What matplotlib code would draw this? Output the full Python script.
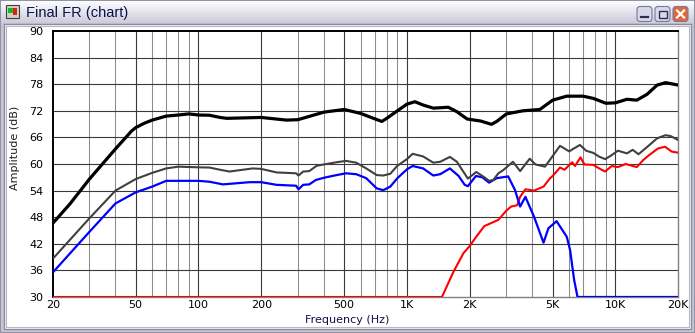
import numpy as np
import matplotlib
matplotlib.use("Agg")
import matplotlib.pyplot as plt
from matplotlib.patches import Rectangle, FancyBboxPatch

# ---------------- data ----------------
black_f = [20, 24.2, 30, 40, 47.7, 50, 55, 60, 70, 80, 90, 100, 113, 127, 137, 200, 265, 300,
           400, 500, 600, 700, 758, 800, 900, 1000, 1092, 1196, 1338, 1578, 1736, 1944,
           2254, 2545, 2695, 3000, 3600, 4340, 5000, 5840, 7000, 7830, 9000, 10000,
           11360, 12660, 14160, 15850, 17400, 20000]
black_db = [46.6, 51.0, 56.6, 63.4, 67.4, 68.2, 69.2, 69.9, 70.8, 71.05, 71.3, 71.05, 71.0, 70.5,
            70.3, 70.5, 69.9, 70.0, 71.7, 72.3, 71.4, 70.2, 69.6, 70.3, 72.0, 73.5, 74.05,
            73.3, 72.6, 72.8, 71.8, 70.15, 69.7, 68.95, 69.6, 71.3, 72.0, 72.3, 74.4, 75.3,
            75.3, 74.8, 73.7, 73.8, 74.6, 74.4, 75.7, 77.8, 78.35, 77.8]

gray_f = [20, 30, 40, 50, 60, 70, 80, 100, 113, 127, 141, 182, 200, 237, 294, 302, 318, 340,
          369, 400, 460, 510, 571, 638, 716, 770, 832, 900, 1000, 1065, 1196, 1338, 1444,
          1607, 1736, 1787, 1960, 2150, 2352, 2477, 2597, 2745, 2893, 3225, 3490, 3880,
          4135, 4594, 5000, 5420, 6000, 6320, 6760, 7230, 7830, 8360, 8930, 9600, 10270,
          11360, 12100, 12900, 14160, 15850, 17400, 18400, 20000]
gray_db = [38.6, 47.75, 54.0, 56.6, 58.0, 59.0, 59.4, 59.25, 59.2, 58.7, 58.3, 59.0, 58.9,
           58.1, 57.9, 57.4, 58.3, 58.4, 59.6, 59.9, 60.4, 60.7, 60.3, 59.0, 57.5, 57.4,
           57.8, 59.6, 61.1, 62.3, 61.7, 60.3, 60.5, 61.6, 60.5, 59.6, 56.7, 58.2, 57.0,
           56.2, 56.4, 57.9, 58.6, 60.5, 58.4, 61.2, 59.9, 59.4, 61.8, 64.1, 62.85, 63.5,
           64.3, 63.0, 62.5, 61.65, 61.1, 62.0, 63.0, 62.4, 63.2, 62.2, 63.8, 65.8, 66.5,
           66.3, 65.4]

blue_f = [20, 30, 40, 50, 60, 70, 80, 100, 113, 131, 176, 200, 237, 294, 302, 318, 340, 366,
          400, 460, 510, 571, 638, 716, 770, 832, 900, 1000, 1065, 1196, 1338, 1444, 1607,
          1770, 1893, 1960, 2143, 2300, 2477, 2695, 3060, 3300, 3490, 3700, 4070, 4520,
          4770, 5220, 5840, 6060, 6340, 6580, 20000]
blue_db = [35.5, 44.7, 51.1, 53.6, 54.9, 56.2, 56.2, 56.2, 56.0, 55.4, 55.9, 55.9, 55.3,
           55.1, 54.3, 55.3, 55.4, 56.4, 56.9, 57.5, 57.9, 57.7, 56.8, 54.5, 54.1, 54.9,
           56.8, 58.8, 59.55, 59.0, 57.4, 57.7, 59.0, 57.3, 55.3, 55.0, 57.3, 57.0, 55.8,
           56.8, 57.2, 54.1, 50.4, 52.6, 48.1, 42.25, 45.5, 47.1, 43.6, 40.6, 33.8, 30.0,
           30.0]

red_f = [20, 1472, 1672, 1868, 2000, 2150, 2352, 2745, 3000, 3160, 3380, 3490, 3700, 4070,
         4520, 4860, 5000, 5420, 5700, 6200, 6400, 6800, 7100, 7830, 8360, 8930, 9600,
         10270, 11200, 12660, 13600, 14500, 16000, 17300, 18600, 20000]
red_db = [30.0, 30.0, 35.7, 39.9, 41.5, 43.6, 46.0, 47.4, 49.5, 50.4, 50.7, 52.6, 54.3,
          54.0, 54.9, 56.8, 57.3, 59.2, 58.7, 60.4, 59.55, 61.5, 59.9, 59.8, 59.0, 58.3,
          59.55, 59.3, 60.0, 59.3, 60.9, 62.0, 63.5, 63.9, 62.8, 62.55]

x_ticks = [20, 50, 100, 200, 500, 1000, 2000, 5000, 10000, 20000]
x_labels = ["20", "50", "100", "200", "500", "1K", "2K", "5K", "10K", "20K"]
x_minor = [30, 40, 60, 70, 80, 90, 300, 400, 600, 700, 800, 900,
           3000, 4000, 6000, 7000, 8000, 9000]
y_ticks = [30, 36, 42, 48, 54, 60, 66, 72, 78, 84, 90]

title = "Final FR (chart)"
x_title = "Frequency (Hz)"
y_title = "Amplitude (dB)"

# ---------------- figure ----------------
W, H = 695, 333
fig = plt.figure(figsize=(W / 100, H / 100), dpi=100)
fig.patch.set_facecolor("#c8c8d6")

# window chrome (pixel coordinates)
bg = fig.add_axes([0, 0, 1, 1])
bg.set_xlim(0, W)
bg.set_ylim(H, 0)
bg.axis("off")
bg.add_patch(Rectangle((0, 0), W, H, facecolor="#c4c4d2", edgecolor="#8a8a9c", lw=1.2))
grad = np.linspace(0, 1, 64)[:, None]
top = np.array([0.99, 0.99, 1.0])
bot = np.array([0.80, 0.80, 0.86])
img = top[None, None, :] * (1 - grad[..., None]) + bot[None, None, :] * grad[..., None]
img = np.repeat(img, 2, axis=1)
bg.imshow(img, extent=(1, W - 1, 23, 1), aspect="auto", zorder=1)
bg.add_patch(Rectangle((4, 24), W - 8.5, H - 28.5, facecolor="white",
                       edgecolor="#8c8c9c", lw=1.0, zorder=2))
bg.add_patch(Rectangle((6, 26), W - 12.5, H - 32.5, facecolor="none",
                       edgecolor="#b8b8c4", lw=0.8, zorder=2))
# icon
bg.add_patch(Rectangle((6, 5), 13, 13, facecolor="#d0d0c8", edgecolor="#404040", lw=0.8, zorder=3))
bg.add_patch(Rectangle((8, 8), 5, 5, facecolor="#10c010", edgecolor="none", zorder=4))
bg.add_patch(Rectangle((13, 8), 4, 7, facecolor="#e02020", edgecolor="none", zorder=4))
bg.text(26, 12.5, title, fontsize=10.5, family="Liberation Sans", color="#101048",
        va="center", ha="left", zorder=5)
# buttons
for bx, fc in [(637, "#d8d8e8"), (655, "#d8d8e8"), (673, "#e06838")]:
    bg.add_patch(FancyBboxPatch((bx, 6.5), 15, 15, boxstyle="round,pad=0,rounding_size=3",
                                facecolor=fc, edgecolor="#7878a0", lw=0.8, zorder=4))
bg.plot([641, 648], [16.5, 16.5], color="#303050", lw=1.6, zorder=5)
bg.add_patch(Rectangle((659, 10.5), 7.5, 7, facecolor="none", edgecolor="#303050", lw=1.0, zorder=5))
bg.plot([677, 684], [10.5, 17.5], color="white", lw=1.6, zorder=5)
bg.plot([677, 684], [17.5, 10.5], color="white", lw=1.6, zorder=5)

# chart axes
x0, x1, y0, y1 = 52.7, 678.2, 31.0, 297.0
ax = fig.add_axes([x0 / W, 1 - y1 / H, (x1 - x0) / W, (y1 - y0) / H], zorder=3)
ax.set_facecolor("white")
ax.set_xscale("log")
ax.set_xlim(20, 20000)
ax.set_ylim(30, 90)

for f in x_minor:
    ax.axvline(f, color="#8c8c8c", lw=0.75, zorder=1)
for f in x_ticks[1:-1]:
    ax.axvline(f, color="#3a3a3a", lw=0.8, zorder=1)
for v in y_ticks[1:-1]:
    ax.axhline(v, color="#3a3a3a", lw=0.8, zorder=1)

ax.plot(red_f, red_db, color="#ff0000", lw=1.5, zorder=3)
ax.plot(blue_f, blue_db, color="#0000ff", lw=1.6, zorder=4)
ax.plot(gray_f, gray_db, color="#404040", lw=1.5, zorder=5)
ax.plot(black_f, black_db, color="#000000", lw=2.3, zorder=6)

ax.set_xticks(x_ticks)
ax.set_xticklabels(x_labels)
ax.xaxis.set_minor_locator(matplotlib.ticker.NullLocator())
ax.set_yticks(y_ticks)
ax.set_yticklabels([str(v) for v in y_ticks])
ax.tick_params(axis="x", length=0, pad=2.5, labelsize=8, labelcolor="#000000")
ax.tick_params(axis="y", length=0, pad=6.5, labelsize=8, labelcolor="#000000")

for s in ["left", "top"]:
    ax.spines[s].set_color("#000000")
    ax.spines[s].set_linewidth(1.4)
for s in ["right", "bottom"]:
    ax.spines[s].set_color("#808080")
    ax.spines[s].set_linewidth(1.0)

fig.text(347 / W, 1 - 320 / H, x_title, fontsize=8, color="#1a0c48",
         ha="center", va="center")
fig.text(15 / W, 1 - 148 / H, y_title, fontsize=8, color="#202020",
         ha="center", va="center", rotation=90)

fig.savefig("out.png", dpi=100, facecolor=fig.get_facecolor())
